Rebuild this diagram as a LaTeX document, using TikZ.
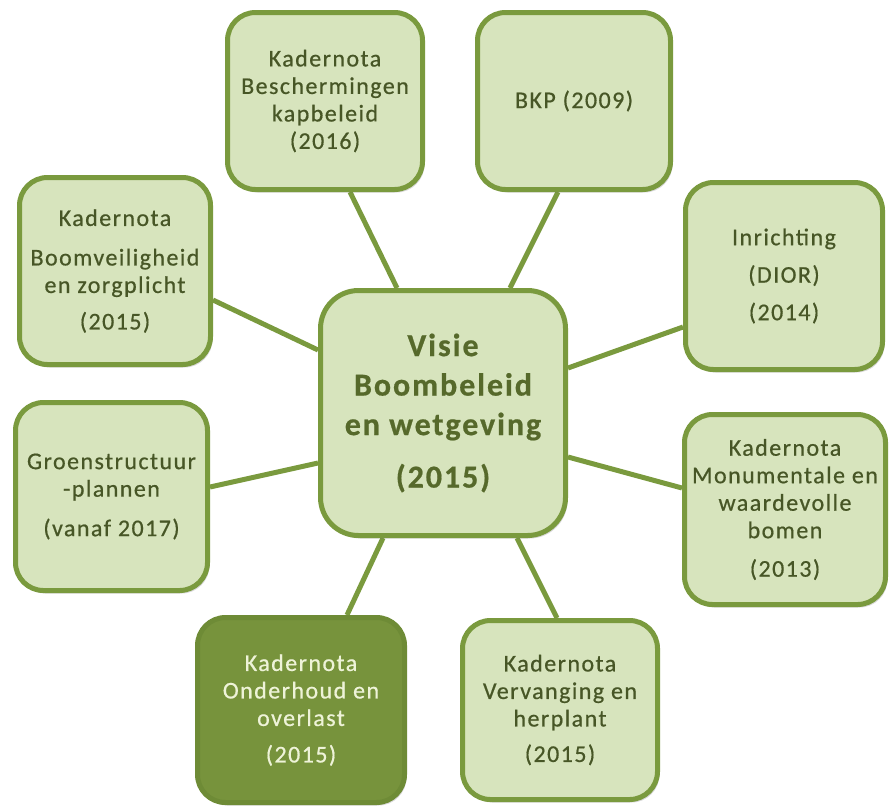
\documentclass[tikz,border=0pt]{standalone}
\usepackage{fontspec}
\setmainfont{Carlito}[LetterSpace=6,FakeBold=0.6]
\usetikzlibrary{shadows,backgrounds}
\definecolor{leaf}{HTML}{D7E4BD}
\definecolor{rim}{HTML}{7A9A3E}
\definecolor{moss}{HTML}{77933C}
\definecolor{mossrim}{HTML}{6E8B36}
\definecolor{ink}{HTML}{475626}
\definecolor{coreink}{HTML}{56692B}
\definecolor{cream}{HTML}{EEF3D8}
\tikzset{
  topic/.style={draw=rim, fill=leaf, line width=5pt, rounded corners=28pt,
    align=center, text=ink, inner sep=0pt,
    font=\fontsize{24}{27.5}\selectfont,
    drop shadow={shadow xshift=2pt, shadow yshift=-3pt, opacity=0.25, fill=black!60}},
  focus/.style={topic, fill=moss, draw=mossrim, text=cream},
  core/.style={topic, rounded corners=38pt, text=coreink,
    font=\fontsize{32}{39.5}\selectfont\bfseries},
  link/.style={draw=rim, line width=5pt}
}
\begin{document}
\begin{tikzpicture}[x=1pt,y=-1pt]
\useasboundingbox (0,0) rectangle (890,807);

\node[core, minimum width=245pt, minimum height=245pt] (visie) at (443,413)
  {Visie\\Boombeleid\\en wetgeving\\[13pt](2015)};

\node[topic, minimum width=195pt, minimum height=177pt] (besch) at (325,101)
  {Kadernota\\Beschermingen\\kapbeleid\\(2016)};
\node[topic, minimum width=193pt, minimum height=177pt] (bkp) at (574,101)
  {BKP (2009)};
\node[topic, minimum width=191pt, minimum height=187pt] (boomv) at (115,271)
  {Kadernota\\[12pt]Boomveiligheid\\en zorgplicht\\[9pt](2015)};
\node[topic, minimum width=197pt, minimum height=187pt] (inricht) at (784,276)
  {Inrichting\\[10pt](DIOR)\\[10pt](2014)};
\node[topic, minimum width=192pt, minimum height=188pt] (groen) at (111.5,496.5)
  {Groenstructuur\\-plannen\\[12pt](vanaf 2017)};
\node[topic, minimum width=201pt, minimum height=190pt] (monum) at (785,509.5)
  {Kadernota\\Monumentale en\\waardevolle\\bomen\\[11pt](2013)};
\node[focus, minimum width=207pt, minimum height=185pt] (onderh) at (301,710)
  {Kadernota\\Onderhoud en\\overlast\\[9pt](2015)};
\node[topic, minimum width=195pt, minimum height=179pt] (verv) at (560,710)
  {Kadernota\\Vervanging en\\herplant\\[8pt](2015)};

\begin{scope}[on background layer]
  \draw[link] ([xshift=25pt]besch.south) -- ([xshift=-46pt]visie.north);
  \draw[link] ([xshift=-16pt]bkp.south) -- ([xshift=67pt]visie.north);
  \draw[link] ([yshift=-29pt]boomv.east) -- ([yshift=63pt]visie.west);
  \draw[link] ([yshift=-51pt]inricht.west) -- ([yshift=45pt]visie.east);
  \draw[link] ([yshift=9.5pt]groen.east) -- ([yshift=-50pt]visie.west);
  \draw[link] ([yshift=21.5pt]monum.west) -- ([yshift=-44pt]visie.east);
  \draw[link] ([xshift=46pt]onderh.north) -- ([xshift=-60pt]visie.south);
  \draw[link] ([xshift=-3pt]verv.north) -- ([xshift=74pt]visie.south);
\end{scope}
\end{tikzpicture}
\end{document}
